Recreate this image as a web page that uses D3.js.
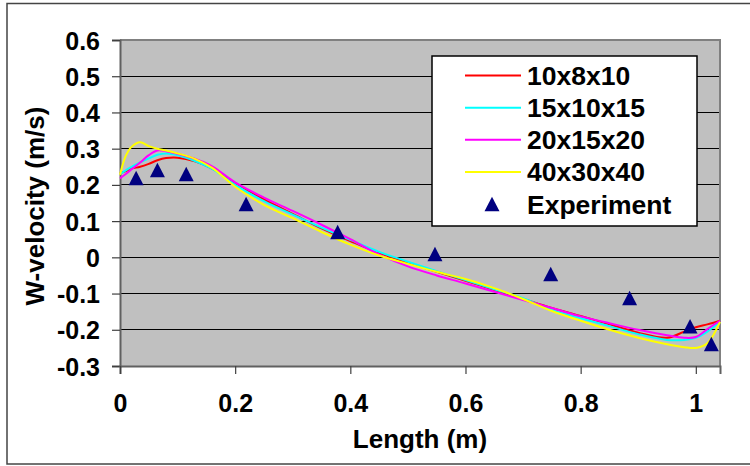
<!DOCTYPE html>
<html><head><meta charset="utf-8">
<script src="https://cdn.jsdelivr.net/npm/d3@7"></script>
<style>html,body{margin:0;padding:0;background:#fff;}svg{display:block;}</style>
</head><body>
<svg id="chart" width="750" height="466"></svg>
<script>
// ---- data ----
const seriesNames = ["10x8x10", "15x10x15", "20x15x20", "40x30x40"];
const lengthX = [0, 0.01, 0.02, 0.035, 0.05, 0.065, 0.08, 0.1, 0.13, 0.16, 0.2, 0.25, 0.3, 0.35, 0.4, 0.45, 0.5, 0.55, 0.6, 0.65, 0.7, 0.75, 0.8, 0.85, 0.9, 0.95, 0.98, 1.0, 1.02, 1.042];
const w10x8x10  = [0.232, 0.238, 0.245, 0.25, 0.258, 0.268, 0.274, 0.275, 0.265, 0.245, 0.205, 0.16, 0.12, 0.08, 0.045, 0.012, -0.015, -0.04, -0.065, -0.09, -0.115, -0.14, -0.162, -0.185, -0.208, -0.222, -0.205, -0.193, -0.185, -0.175];
const w15x10x15 = [0.23, 0.24, 0.25, 0.262, 0.273, 0.283, 0.287, 0.282, 0.266, 0.244, 0.2, 0.155, 0.118, 0.082, 0.048, 0.015, -0.012, -0.038, -0.063, -0.088, -0.113, -0.145, -0.168, -0.19, -0.212, -0.228, -0.228, -0.222, -0.205, -0.178];
const w20x15x20 = [0.218, 0.23, 0.243, 0.262, 0.282, 0.295, 0.293, 0.286, 0.272, 0.251, 0.207, 0.165, 0.128, 0.09, 0.05, 0.008, -0.025, -0.05, -0.072, -0.095, -0.118, -0.14, -0.163, -0.182, -0.2, -0.215, -0.222, -0.22, -0.198, -0.175];
const w40x30x40 = [0.228, 0.28, 0.305, 0.318, 0.307, 0.3, 0.295, 0.287, 0.272, 0.247, 0.195, 0.145, 0.108, 0.07, 0.035, 0.005, -0.018, -0.04, -0.06, -0.085, -0.115, -0.148, -0.175, -0.2, -0.222, -0.24, -0.248, -0.25, -0.237, -0.178];
const expX = [0.028, 0.065, 0.115, 0.219, 0.378, 0.547, 0.748, 0.885, 0.990, 1.027];
const expW = [0.219, 0.241, 0.230, 0.147, 0.070, 0.009, -0.046, -0.112, -0.190, -0.239];
const xTicks = [0, 0.2, 0.4, 0.6, 0.8, 1];
const yTicks = [0.6, 0.5, 0.4, 0.3, 0.2, 0.1, 0, -0.1, -0.2, -0.3];
const seriesColors = ["#FF0000", "#00FFFF", "#FF00FF", "#FFFF00"];

// ---- layout ----
const svg = d3.select("#chart");
const L = 120, R = 720, T = 40, B = 366;
const x = d3.scaleLinear().domain([0, 1.042]).range([L, R]);
const y = d3.scaleLinear().domain([-0.3, 0.6]).range([B, T]);
const font = "'Liberation Sans', Arial, sans-serif";
const fmt = d => String(d);

// outer border
svg.append("rect").attr("x", 7).attr("y", 3.5).attr("width", 760).attr("height", 460.5)
  .attr("fill", "#fff").attr("stroke", "#444").attr("stroke-width", 1.5);

// plot area
svg.append("rect").attr("x", L).attr("y", T).attr("width", R - L).attr("height", B - T)
  .attr("fill", "#C0C0C0");

// gridlines
svg.append("g").selectAll("line").data(yTicks).join("line")
  .attr("x1", L).attr("x2", R).attr("y1", d => y(d)).attr("y2", d => y(d))
  .attr("stroke", "#000").attr("stroke-width", 1).attr("shape-rendering", "crispEdges");

// plot border right/top
svg.append("path").attr("d", `M${L},${T}H${R}V${B}`).attr("fill", "none")
  .attr("stroke", "#808080").attr("stroke-width", 2);

// axes
const yAxis = d3.axisLeft(y).tickValues(yTicks).tickSize(8).tickPadding(12).tickFormat(fmt);
const xAxis = d3.axisBottom(x).tickValues(xTicks).tickSize(8).tickFormat(fmt);
const gy = svg.append("g").attr("transform", `translate(${L},0)`).call(yAxis);
const gx = svg.append("g").attr("transform", `translate(0,${B})`).call(xAxis);
[gy, gx].forEach(g => {
  g.select(".domain").attr("stroke", "#606060").attr("stroke-width", 2);
  g.selectAll(".tick line").attr("stroke", "#404040").attr("stroke-width", 1.2);
  g.selectAll(".tick text").attr("fill", "#000").attr("font-family", font)
    .attr("font-weight", "bold").attr("font-size", 25);
});
gy.selectAll(".tick text").attr("dy", "0.36em");
gx.selectAll(".tick text").attr("y", 46).attr("dy", 0);

// lines
const allSeries = [w10x8x10, w15x10x15, w20x15x20, w40x30x40];
const line = d3.line().x((d, i) => x(lengthX[i])).y(d => y(d)).curve(d3.curveCatmullRom.alpha(0.5));
svg.append("g").selectAll("path").data(allSeries).join("path")
  .attr("d", d => line(d)).attr("fill", "none")
  .attr("stroke", (d, i) => seriesColors[i]).attr("stroke-width", 2);

// triangle symbol
const tri = { draw(ctx, size) { const w = 15, h = 14.5; ctx.moveTo(0, -h / 2); ctx.lineTo(w / 2, h / 2); ctx.lineTo(-w / 2, h / 2); ctx.closePath(); } };
const sym = d3.symbol().type(tri);
svg.append("g").selectAll("path").data(expX).join("path")
  .attr("transform", (d, i) => `translate(${x(d)},${y(expW[i])})`)
  .attr("d", sym()).attr("fill", "#000080");

// axis titles
svg.append("text").attr("x", (L + R) / 2).attr("y", 448).attr("text-anchor", "middle")
  .attr("font-family", font).attr("font-weight", "bold").attr("font-size", 26).text("Length (m)");
svg.append("text").attr("transform", `translate(44,${(T + B) / 2 + 3}) rotate(-90)`).attr("text-anchor", "middle")
  .attr("font-family", font).attr("font-weight", "bold").attr("font-size", 26).text("W-velocity (m/s)");

// legend
const lg = svg.append("g");
lg.append("rect").attr("x", 432).attr("y", 56).attr("width", 265).attr("height", 170)
  .attr("fill", "#fff").attr("stroke", "#000").attr("stroke-width", 1.5);
const legendNames = seriesNames.concat(["Experiment"]);
const rowY = d3.scalePoint().domain(d3.range(legendNames.length)).range([75.5, 204]);
legendNames.forEach((name, i) => {
  const yy = rowY(i);
  if (i < 4) {
    lg.append("line").attr("x1", 465).attr("x2", 521).attr("y1", yy).attr("y2", yy)
      .attr("stroke", seriesColors[i]).attr("stroke-width", 2);
  } else {
    lg.append("path").attr("transform", `translate(492,${yy})`).attr("d", sym()).attr("fill", "#000080");
  }
  lg.append("text").attr("x", 527).attr("y", yy).attr("dy", "0.36em")
    .attr("font-family", font).attr("font-weight", "bold").attr("font-size", 26.5).text(name);
});
</script>
</body></html>
